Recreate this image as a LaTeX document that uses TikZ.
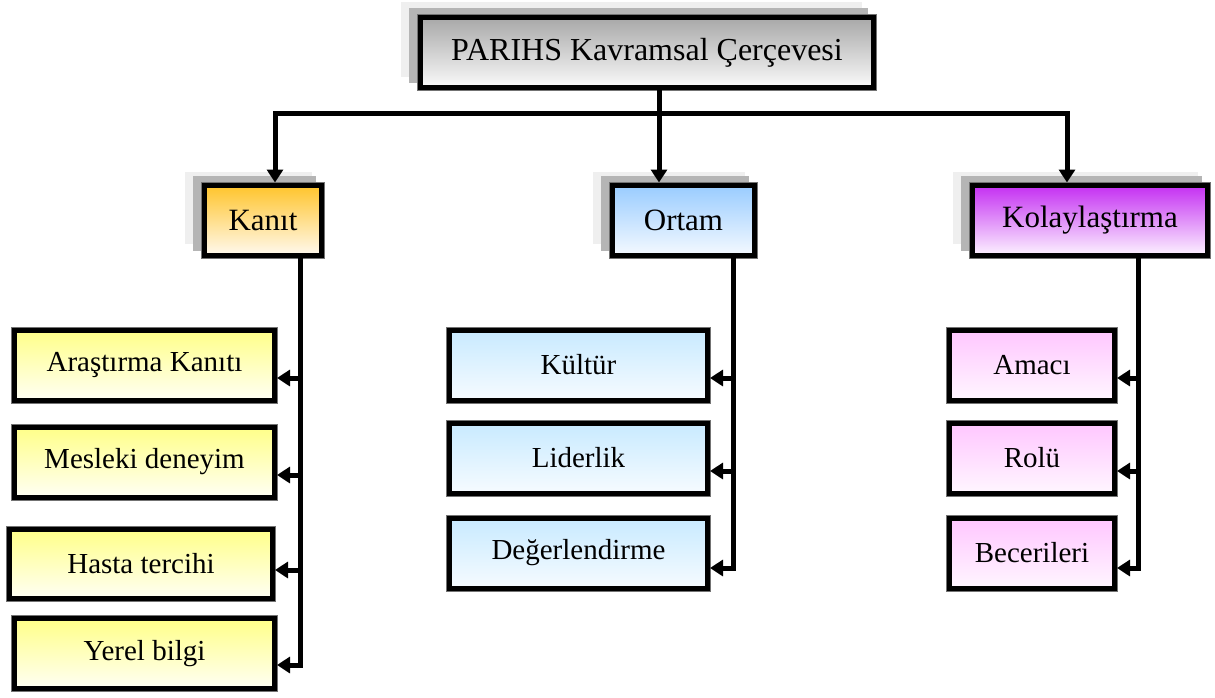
\documentclass[tikz,border=0pt]{standalone}
\usepackage{fontspec}
\setmainfont{Liberation Serif}
\usetikzlibrary{arrows.meta,backgrounds}
\definecolor{shl}{HTML}{EFEFEF}
\definecolor{shd}{HTML}{B5B5B5}
\definecolor{topT}{HTML}{A8A8A8}\definecolor{topB}{HTML}{FAFAFA}
\definecolor{kanT}{HTML}{FFC42A}\definecolor{kanB}{HTML}{FFF9EE}
\definecolor{ortT}{HTML}{99CCFF}\definecolor{ortB}{HTML}{F4F9FF}
\definecolor{kolT}{HTML}{C42EF2}\definecolor{kolB}{HTML}{FCF2FF}
\definecolor{kcT}{HTML}{FFFF88}\definecolor{kcB}{HTML}{FFFFF4}
\definecolor{ocT}{HTML}{C8EAFF}\definecolor{ocB}{HTML}{F6FBFF}
\definecolor{lcT}{HTML}{FFC6FF}\definecolor{lcB}{HTML}{FFF6FF}
\begin{document}
\begin{tikzpicture}[x=1pt,y=-1pt,
  box/.style={rectangle, draw=black, line width=5pt, inner sep=0pt,
    preaction={draw=black!55, line width=7pt}},
  topbox/.style={box, top color=topT, bottom color=topB, font=\fontsize{32}{38}\selectfont},
  lvl/.style={box, font=\fontsize{31}{36}\selectfont, minimum height=70pt},
  child/.style={box, font=\fontsize{29}{34}\selectfont, minimum height=70pt},
  conn/.style={line width=5pt, line join=miter},
  arr/.style={conn, -{Triangle[length=13pt,width=16pt]}}
]
\useasboundingbox (0,0) rectangle (1215,697);

% top
\node[topbox, minimum width=453pt, minimum height=70pt] (top) at (647,52.5) {PARIHS Kavramsal Çerçevesi};

% level 1
\node[lvl, top color=kanT, bottom color=kanB, minimum width=117pt] (kanit) at (263,220) {Kanıt};
\node[lvl, top color=ortT, bottom color=ortB, minimum width=142pt] (ortam) at (683.5,220) {Ortam};
\node[lvl, top color=kolT, bottom color=kolB, minimum width=235pt] (kolay) at (1090,220) {Kolaylaştırma};

% shadows
\begin{scope}[on background layer]
  \fill[shl] ([shift={(-17,-13)}]top.north west) rectangle ([shift={(-14,-13)}]top.south east);
  \fill[shd] ([shift={(-9,-7)}]top.north west) rectangle ([shift={(-8,-7)}]top.south east);
  \foreach \n in {kanit,ortam,kolay}{
    \fill[shl] ([shift={(-17,-11)}]\n.north west) rectangle ([shift={(-12,-14)}]\n.south east);
    \fill[shd] ([shift={(-9,-7)}]\n.north west) rectangle ([shift={(-8,-7)}]\n.south east);
  }
\end{scope}

% Kanit children
\node[child, top color=kcT, bottom color=kcB, minimum width=260pt] (ka1) at (144.5,365) {Araştırma Kanıtı};
\node[child, top color=kcT, bottom color=kcB, minimum width=260pt] (ka2) at (144.5,462) {Mesleki deneyim};
\node[child, top color=kcT, bottom color=kcB, minimum width=263pt, minimum height=69pt] (ka3) at (141,563.5) {Hasta tercihi};
\node[child, top color=kcT, bottom color=kcB, minimum width=260pt] (ka4) at (144.5,653.5) {Yerel bilgi};

% Ortam children
\node[child, top color=ocT, bottom color=ocB, minimum width=258pt] (or1) at (578.5,365) {Kültür};
\node[child, top color=ocT, bottom color=ocB, minimum width=258pt] (or2) at (578.5,458) {Liderlik};
\node[child, top color=ocT, bottom color=ocB, minimum width=258pt] (or3) at (578.5,553) {Değerlendirme};

% Kolaylastirma children
\node[child, top color=lcT, bottom color=lcB, minimum width=165pt] (ko1) at (1032,365) {Amacı};
\node[child, top color=lcT, bottom color=lcB, minimum width=165pt] (ko2) at (1032,458) {Rolü};
\node[child, top color=lcT, bottom color=lcB, minimum width=165pt] (ko3) at (1032,553) {Becerileri};

% connectors from top
\coordinate (hub) at (659,113);
\coordinate (kx) at (275,0);
\coordinate (lx) at (1067,0);
\draw[conn] (top.south -| hub) -- (hub);
\draw[arr] (hub) -| (kanit.north -| kx);
\draw[arr] (hub) -- (ortam.north -| hub);
\draw[arr] (hub) -| (kolay.north -| lx);

% branch lines
\coordinate (kv) at (300,0);
\coordinate (ov) at (733,0);
\coordinate (lv) at (1138,0);
\draw[arr] (kanit.south -| kv) |- ([yshift=-13pt]ka1.east);
\draw[arr] (kanit.south -| kv) |- ([yshift=-13pt]ka2.east);
\draw[arr] (kanit.south -| kv) |- ([yshift=-6.5pt]ka3.east);
\draw[arr] (kanit.south -| kv) |- ([yshift=-11.5pt]ka4.east);

\draw[arr] (ortam.south -| ov) |- ([yshift=-13pt]or1.east);
\draw[arr] (ortam.south -| ov) |- ([yshift=-13pt]or2.east);
\draw[arr] (ortam.south -| ov) |- ([yshift=-15pt]or3.east);

\draw[arr] (kolay.south -| lv) |- ([yshift=-13pt]ko1.east);
\draw[arr] (kolay.south -| lv) |- ([yshift=-13pt]ko2.east);
\draw[arr] (kolay.south -| lv) |- ([yshift=-15pt]ko3.east);
\end{tikzpicture}
\end{document}
